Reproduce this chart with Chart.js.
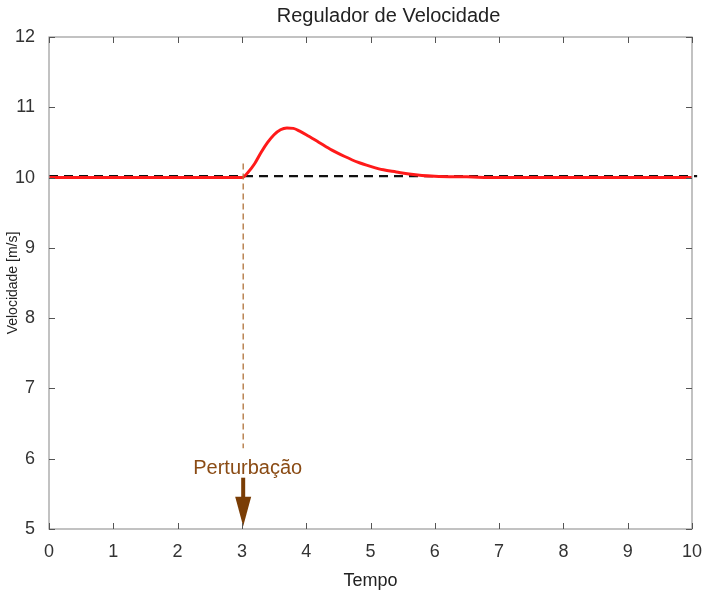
<!DOCTYPE html>
<html lang="pt">
<head>
  <meta charset="UTF-8">
  <title>Regulador de Velocidade</title>
  <script src="https://cdn.jsdelivr.net/npm/chart.js@4"></script>
  <style>
    html, body { margin: 0; padding: 0; background: #fff; }
    #wrap { width: 703px; height: 593px; }
  </style>
</head>
<body>
  <div id="wrap"><canvas id="chart" width="703" height="593"></canvas></div>

  <script>
    // speed response (red)
    const tempo      = [0, 3, 3.1, 3.2, 3.3, 3.4, 3.5, 3.6, 3.7, 3.8, 3.9, 4.0, 4.2, 4.4, 4.6, 4.8, 5.0, 5.2, 5.4, 5.6, 5.8, 6.0, 6.5, 7, 10];
    const velocidade = [10, 10, 10.08, 10.2, 10.36, 10.5, 10.61, 10.68, 10.705, 10.7, 10.66, 10.61, 10.5, 10.39, 10.3, 10.22, 10.16, 10.11, 10.08, 10.05, 10.03, 10.02, 10.01, 10.0, 10.0];

    // reference speed (black dashed)
    const refTempo = [0, 10.08];
    const refValor = [10.02, 10.02];

    // disturbance marker
    const perturbX = 3.02;
    const perturbLinha = [10.2, 6.15];
    const perturbTextoX = 3.09;
    const perturbTextoY = 5.86;
    const setaDe = 5.73;
    const setaBase = 5.46;
    const setaAte = 5.04;

    const xTicks = [0, 1, 2, 3, 4, 5, 6, 7, 8, 9, 10];
    const yTicks = [5, 6, 7, 8, 9, 10, 11, 12];

    const FONT = 'Liberation Sans, Arial, sans-serif';

    const pts = (xs, ys) => xs.map((x, i) => ({ x: x, y: ys[i] }));

    // box, inward ticks, title and the Perturbação annotation
    const extras = {
      id: 'extras',
      afterDatasetsDraw(chart) {
        const { ctx, chartArea: a, scales: { x, y } } = chart;
        ctx.save();

        // brown dashed vertical line
        const px = x.getPixelForValue(perturbX);
        ctx.strokeStyle = '#b0723a';
        ctx.lineWidth = 1.3;
        ctx.setLineDash([6, 4]);
        ctx.beginPath();
        ctx.moveTo(px, y.getPixelForValue(perturbLinha[0]));
        ctx.lineTo(px, y.getPixelForValue(perturbLinha[1]));
        ctx.stroke();
        ctx.setLineDash([]);

        // label
        ctx.fillStyle = '#8a4b14';
        ctx.font = '20px ' + FONT;
        ctx.textAlign = 'center';
        ctx.textBaseline = 'middle';
        ctx.fillText('Perturbação', x.getPixelForValue(perturbTextoX), y.getPixelForValue(perturbTextoY));

        // arrow
        ctx.fillStyle = '#7a3d05';
        ctx.strokeStyle = '#7a3d05';
        ctx.lineWidth = 4;
        ctx.beginPath();
        ctx.moveTo(px, y.getPixelForValue(setaDe));
        ctx.lineTo(px, y.getPixelForValue(setaBase) + 2);
        ctx.stroke();
        ctx.beginPath();
        ctx.moveTo(px - 8, y.getPixelForValue(setaBase));
        ctx.lineTo(px + 8, y.getPixelForValue(setaBase));
        ctx.lineTo(px, y.getPixelForValue(setaAte));
        ctx.closePath();
        ctx.fill();

        // axes box
        ctx.strokeStyle = '#9a9a9a';
        ctx.lineWidth = 1.2;
        ctx.strokeRect(a.left, a.top, a.right - a.left, a.bottom - a.top);

        // inward ticks on all sides
        ctx.strokeStyle = '#555';
        ctx.lineWidth = 1;
        ctx.beginPath();
        xTicks.forEach(v => {
          const p = Math.round(x.getPixelForValue(v)) + 0.5;
          ctx.moveTo(p, a.bottom); ctx.lineTo(p, a.bottom - 6);
          ctx.moveTo(p, a.top); ctx.lineTo(p, a.top + 6);
        });
        yTicks.forEach(v => {
          const p = Math.round(y.getPixelForValue(v)) + 0.5;
          ctx.moveTo(a.left, p); ctx.lineTo(a.left + 6, p);
          ctx.moveTo(a.right, p); ctx.lineTo(a.right - 6, p);
        });
        ctx.stroke();

        // title
        ctx.fillStyle = '#222';
        ctx.font = '20px ' + FONT;
        ctx.textAlign = 'center';
        ctx.textBaseline = 'middle';
        ctx.fillText('Regulador de Velocidade', (a.left + a.right) / 2 + 18, 16);

        ctx.restore();
      }
    };

    new Chart(document.getElementById('chart'), {
      type: 'scatter',
      data: {
        datasets: [
          {
            label: 'Velocidade',
            data: pts(tempo, velocidade),
            showLine: true,
            borderColor: '#ff1a1a',
            borderWidth: 3,
            pointRadius: 0,
            cubicInterpolationMode: 'monotone'
          },
          {
            label: 'Referência',
            data: pts(refTempo, refValor),
            showLine: true,
            borderColor: '#111',
            borderWidth: 2.4,
            borderDash: [9, 6],
            pointRadius: 0,
            clip: false
          }
        ]
      },
      options: {
        responsive: false,
        animation: false,
        layout: { padding: { top: 37, right: 11, left: 0, bottom: 0 } },
        plugins: {
          legend: { display: false },
          tooltip: { enabled: false },
          title: { display: false }
        },
        scales: {
          x: {
            type: 'linear',
            min: 0, max: 10,
            afterBuildTicks: s => { s.ticks = xTicks.map(v => ({ value: v })); },
            afterFit: s => { s.height = 64; s.paddingLeft = 0; s.paddingRight = 0; },
            grid: { display: false },
            border: { display: false },
            ticks: { padding: 4, color: '#333', font: { family: FONT, size: 18 } },
            title: { display: true, text: 'Tempo', color: '#222', padding: { top: 2, bottom: 1 }, font: { family: FONT, size: 18 } }
          },
          y: {
            min: 5, max: 12,
            afterBuildTicks: s => { s.ticks = yTicks.map(v => ({ value: v })); },
            afterFit: s => { s.width = 49; s.paddingTop = 0; s.paddingBottom = 0; },
            grid: { display: false },
            border: { display: false },
            ticks: { padding: 6, color: '#333', font: { family: FONT, size: 18 } },
            title: { display: true, text: 'Velocidade [m/s]', color: '#222', padding: { top: 5, bottom: 5 }, font: { family: FONT, size: 14 } }
          }
        }
      },
      plugins: [extras]
    });
  </script>
</body>
</html>
